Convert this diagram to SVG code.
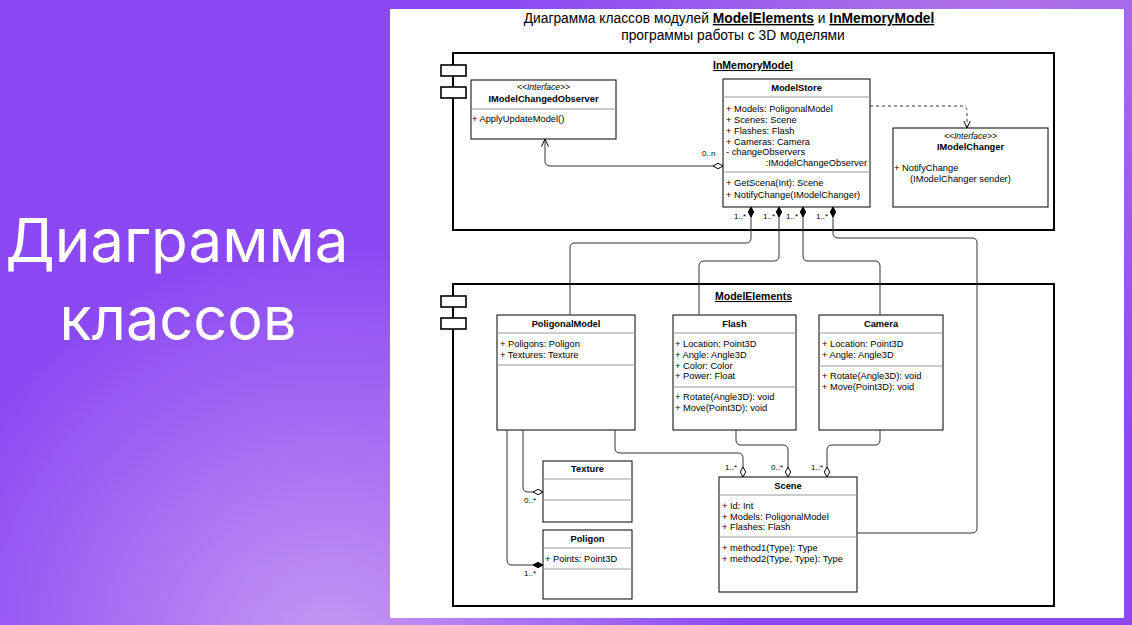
<svg xmlns="http://www.w3.org/2000/svg" width="1132" height="625" viewBox="0 0 1132 625">
<defs>
  <radialGradient id="bgGlow1" cx="330" cy="660" r="420" gradientUnits="userSpaceOnUse">
    <stop offset="0" stop-color="#c79af3"/>
    <stop offset="1" stop-color="#c79af3" stop-opacity="0"/>
  </radialGradient>
  <radialGradient id="bgGlow2" cx="1000" cy="-40" r="500" gradientUnits="userSpaceOnUse">
    <stop offset="0" stop-color="#b274e6"/>
    <stop offset="1" stop-color="#b274e6" stop-opacity="0"/>
  </radialGradient>
  <marker id="agg" viewBox="0 0 10 6" refX="0" refY="3" markerWidth="10" markerHeight="6" markerUnits="userSpaceOnUse" orient="auto">
    <path d="M0,3 L5,0.3 L10,3 L5,5.7 Z" fill="#fff" stroke="#000" stroke-width="1"/>
  </marker>
  <marker id="comp" viewBox="0 0 10 6" refX="0" refY="3" markerWidth="10" markerHeight="6" markerUnits="userSpaceOnUse" orient="auto">
    <path d="M0,3 L5,0.3 L10,3 L5,5.7 Z" fill="#000" stroke="#000" stroke-width="1"/>
  </marker>
  <marker id="open" viewBox="0 0 8 8" refX="7.5" refY="4" markerWidth="8" markerHeight="8" markerUnits="userSpaceOnUse" orient="auto">
    <path d="M0,0.5 L7.5,4 L0,7.5" fill="none" stroke="#000" stroke-width="1"/>
  </marker>
</defs>
<style>
  .cls{fill:#fff;stroke:#000;stroke-width:1}
  .div{stroke:#999;stroke-width:1}
  .pkg{fill:none;stroke:#000;stroke-width:2}
  .tab{fill:#fff;stroke:#000;stroke-width:1.6}
  .t{font-family:"Liberation Sans",Arial,sans-serif;font-size:9.3px;fill:#000}
  .b{font-weight:bold}
  .i{font-style:italic;font-size:8.5px}
  .c{text-anchor:middle}
  .m{font-family:"Liberation Sans",Arial,sans-serif;font-size:8px;fill:#000}
  .pl{font-family:"Liberation Sans",Arial,sans-serif;font-size:10.5px;font-weight:bold;text-decoration:underline;fill:#000}
  .con{fill:none;stroke:#333;stroke-width:1}
  .big{font-family:Inter,"Open Sans",sans-serif;font-size:60px;fill:#fff;text-anchor:middle}
  .title{font-family:"Liberation Sans",Arial,sans-serif;font-size:13.8px;fill:#000;text-anchor:middle}
</style>

<rect x="0" y="0" width="1132" height="625" fill="#8b48f3"/>
<rect x="0" y="0" width="1132" height="625" fill="url(#bgGlow2)"/>
<rect x="0" y="0" width="1132" height="625" fill="url(#bgGlow1)"/>

<text class="big" x="177" y="262" textLength="343" lengthAdjust="spacingAndGlyphs">Диаграмма</text>
<text class="big" x="178" y="340" textLength="237" lengthAdjust="spacingAndGlyphs">классов</text>

<rect x="390" y="9" width="734" height="609" fill="#fff"/>

<text class="title" x="729" y="23">Диаграмма классов модулей <tspan font-weight="bold" text-decoration="underline">ModelElements</tspan> и <tspan font-weight="bold" text-decoration="underline">InMemoryModel</tspan></text>
<text class="title" x="733" y="40">программы работы с 3D моделями</text>

<g id="pkg-InMemoryModel">
  <rect class="pkg" x="453" y="53" width="601" height="177"/>
  <rect class="tab" x="441" y="65" width="25" height="11"/>
  <rect class="tab" x="441" y="87" width="25" height="11"/>
  <text class="pl" x="713" y="69">InMemoryModel</text>
</g>

<g id="pkg-ModelElements">
  <rect class="pkg" x="453" y="284" width="601" height="322"/>
  <rect class="tab" x="441" y="296" width="25" height="11"/>
  <rect class="tab" x="441" y="318" width="25" height="11"/>
  <text class="pl" x="715" y="300">ModelElements</text>
</g>

<g id="IModelChangedObserver">
  <rect class="cls" x="471" y="80" width="145" height="59"/>
  <line class="div" x1="471" y1="109" x2="616" y2="109"/>
  <text class="t i c" x="543.5" y="90">&lt;&lt;Interface&gt;&gt;</text>
  <text class="t b c" x="543.5" y="102">IModelChangedObserver</text>
  <text class="t" x="472" y="122">+ ApplyUpdateModel()</text>
</g>

<g id="ModelStore">
  <rect class="cls" x="723" y="79" width="147" height="128"/>
  <line class="div" x1="723" y1="97" x2="870" y2="97"/>
  <line class="div" x1="723" y1="172" x2="870" y2="172"/>
  <text class="t b c" x="796.5" y="91">ModelStore</text>
  <text class="t" x="726" y="112">+ Models: PoligonalModel</text>
  <text class="t" x="726" y="123">+ Scenes: Scene</text>
  <text class="t" x="726" y="134">+ Flashes: Flash</text>
  <text class="t" x="726" y="145">+ Cameras: Camera</text>
  <text class="t" x="726" y="155">- changeObservers</text>
  <text class="t" x="867" y="166" text-anchor="end">:IModelChangeObserver</text>
  <text class="t" x="726" y="186">+ GetScena(Int): Scene</text>
  <text class="t" x="726" y="198">+ NotifyChange(IModelChanger)</text>
</g>

<g id="IModelChanger">
  <rect class="cls" x="893" y="128" width="155" height="79"/>
  <text class="t i c" x="970.5" y="139">&lt;&lt;Interface&gt;&gt;</text>
  <text class="t b c" x="970.5" y="150">IModelChanger</text>
  <text class="t" x="894" y="171">+ NotifyChange</text>
  <text class="t" x="910" y="182">(IModelChanger sender)</text>
</g>

<g id="PoligonalModel">
  <rect class="cls" x="497" y="315" width="138" height="115"/>
  <line class="div" x1="497" y1="333" x2="635" y2="333"/>
  <line class="div" x1="497" y1="365" x2="635" y2="365"/>
  <text class="t b c" x="566" y="327">PoligonalModel</text>
  <text class="t" x="500" y="347">+ Poligons: Poligon</text>
  <text class="t" x="500" y="358">+ Textures: Texture</text>
</g>

<g id="Flash">
  <rect class="cls" x="673" y="315" width="123" height="115"/>
  <line class="div" x1="673" y1="333" x2="796" y2="333"/>
  <line class="div" x1="673" y1="387" x2="796" y2="387"/>
  <text class="t b c" x="734.5" y="327">Flash</text>
  <text class="t" x="675" y="347">+ Location: Point3D</text>
  <text class="t" x="675" y="358">+ Angle: Angle3D</text>
  <text class="t" x="675" y="369">+ Color: Color</text>
  <text class="t" x="675" y="379">+ Power: Float</text>
  <text class="t" x="675" y="400">+ Rotate(Angle3D): void</text>
  <text class="t" x="675" y="411">+ Move(Point3D): void</text>
</g>

<g id="Camera">
  <rect class="cls" x="819" y="315" width="124" height="115"/>
  <line class="div" x1="819" y1="333" x2="943" y2="333"/>
  <line class="div" x1="819" y1="366" x2="943" y2="366"/>
  <text class="t b c" x="881" y="327">Camera</text>
  <text class="t" x="822" y="347">+ Location: Point3D</text>
  <text class="t" x="822" y="358">+ Angle: Angle3D</text>
  <text class="t" x="822" y="379">+ Rotate(Angle3D): void</text>
  <text class="t" x="822" y="390">+ Move(Point3D): void</text>
</g>

<g id="Texture">
  <rect class="cls" x="543" y="461" width="89" height="61"/>
  <line class="div" x1="543" y1="479" x2="632" y2="479"/>
  <line class="div" x1="543" y1="500" x2="632" y2="500"/>
  <text class="t b c" x="587.5" y="472">Texture</text>
</g>

<g id="Poligon">
  <rect class="cls" x="543" y="530" width="89" height="69"/>
  <line class="div" x1="543" y1="548" x2="632" y2="548"/>
  <line class="div" x1="543" y1="569" x2="632" y2="569"/>
  <text class="t b c" x="587.5" y="542">Poligon</text>
  <text class="t" x="545" y="562">+ Points: Point3D</text>
</g>

<g id="Scene">
  <rect class="cls" x="719" y="477" width="138" height="115"/>
  <line class="div" x1="719" y1="495" x2="857" y2="495"/>
  <line class="div" x1="719" y1="537" x2="857" y2="537"/>
  <text class="t b c" x="788" y="489">Scene</text>
  <text class="t" x="722" y="509">+ Id: Int</text>
  <text class="t" x="722" y="520">+ Models: PoligonalModel</text>
  <text class="t" x="722" y="530">+ Flashes: Flash</text>
  <text class="t" x="722" y="551">+ method1(Type): Type</text>
  <text class="t" x="722" y="562">+ method2(Type, Type): Type</text>
</g>

<g id="connectors">
  <path class="con" marker-start="url(#agg)" marker-end="url(#open)" d="M723,166 L550,166 Q545,166 545,161 L545,139"/>
  <path class="con" stroke-dasharray="3,3" marker-end="url(#open)" d="M870,106 L962,106 Q967,106 967,111 L967,128"/>
  <path class="con" marker-start="url(#comp)" d="M751,207 L751,238 Q751,243 746,243 L575,243 Q570,243 570,248 L570,315"/>
  <path class="con" marker-start="url(#comp)" d="M779,207 L779,256 Q779,261 774,261 L704,261 Q699,261 699,266 L699,315"/>
  <path class="con" marker-start="url(#comp)" d="M803,207 L803,256 Q803,261 808,261 L875,261 Q880,261 880,266 L880,315"/>
  <path class="con" marker-start="url(#comp)" d="M833,207 L833,233 Q833,238 838,238 L972,238 Q977,238 977,243 L977,528 Q977,533 972,533 L857,533"/>
  <path class="con" marker-start="url(#agg)" d="M543,492 L528,492 Q523,492 523,487 L523,430"/>
  <path class="con" marker-start="url(#comp)" d="M543,565 L512,565 Q507,565 507,560 L507,430"/>
  <path class="con" marker-start="url(#agg)" d="M743,477 L743,458 Q743,453 738,453 L620,453 Q615,453 615,448 L615,430"/>
  <path class="con" marker-start="url(#agg)" d="M788,477 L788,450 Q788,445 783,445 L741,445 Q736,445 736,440 L736,430"/>
  <path class="con" marker-start="url(#agg)" d="M827,477 L827,450 Q827,445 832,445 L875,445 Q880,445 880,440 L880,430"/>
  <text class="m" x="702" y="156">0..n</text>
  <text class="m" x="734" y="219">1..*</text>
  <text class="m" x="763" y="219">1..*</text>
  <text class="m" x="786" y="219">1..*</text>
  <text class="m" x="816" y="219">1..*</text>
  <text class="m" x="725" y="470">1..*</text>
  <text class="m" x="771" y="470">0..*</text>
  <text class="m" x="811" y="470">1..*</text>
  <text class="m" x="524" y="503">0..*</text>
  <text class="m" x="524" y="576">1..*</text>
</g>
</svg>
